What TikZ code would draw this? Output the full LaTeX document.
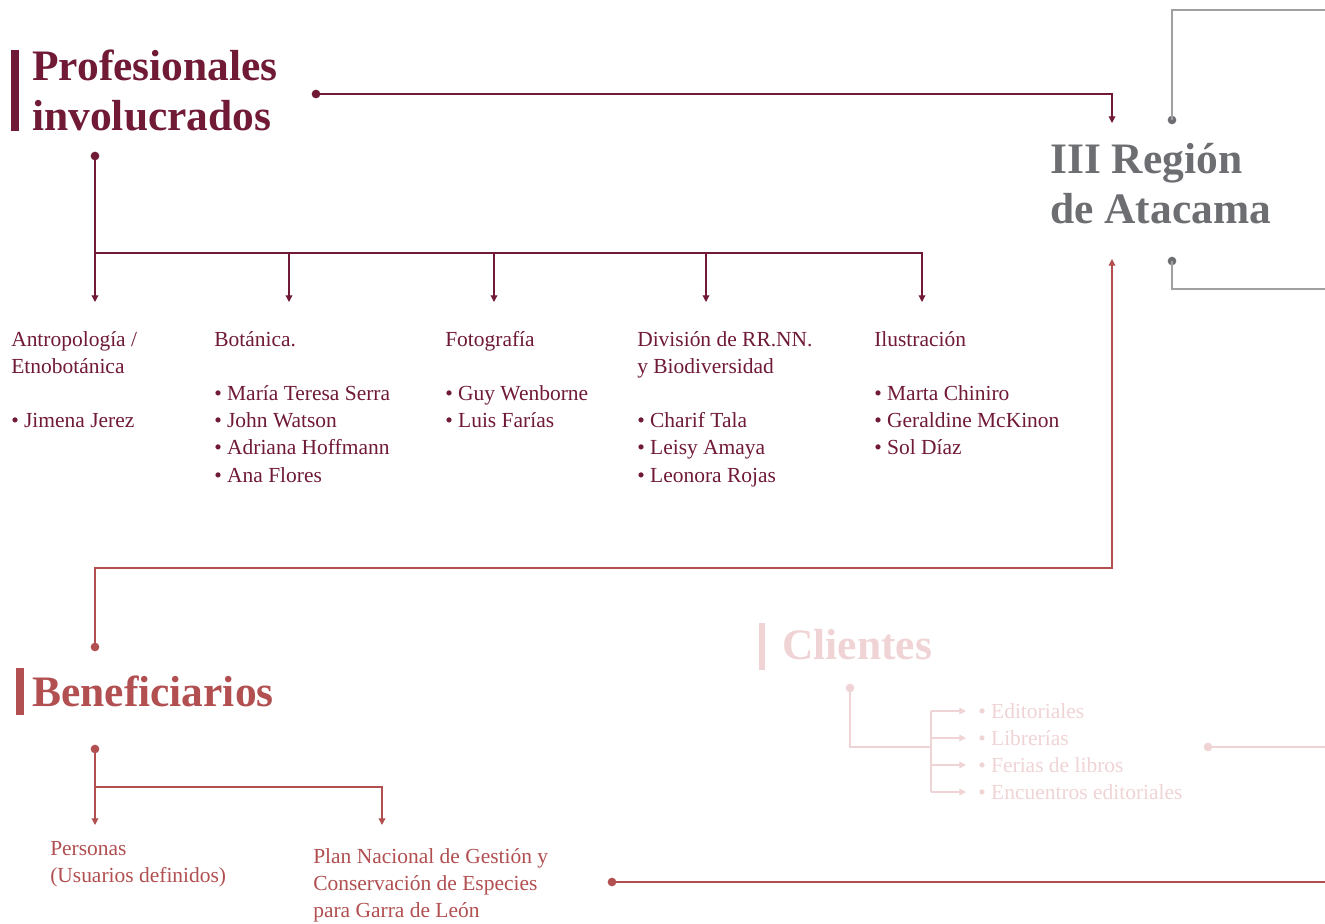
\documentclass[tikz,border=0pt]{standalone}
\usepackage{fontspec}
\setmainfont{Liberation Serif}
\usetikzlibrary{arrows.meta}
\definecolor{cmaroon}{HTML}{701A35}
\definecolor{cgray}{HTML}{6D6E71}
\definecolor{clgray}{HTML}{A0A0A0}
\definecolor{crose}{HTML}{B24F50}
\definecolor{cpink}{HTML}{F0D4D5}
\begin{document}
\begin{tikzpicture}[x=0.75pt,y=-0.75pt,
  conn/.style={line width=0.9pt,-{Triangle[length=5pt,width=5pt]}},
  plain/.style={line width=0.9pt},
  dot/.style={circle,inner sep=0pt,minimum size=6.5pt,fill},
  head/.style={anchor=base west,inner sep=0pt,font=\fontsize{32.6}{37.8}\selectfont\bfseries},
  body/.style={anchor=base west,inner sep=0pt,font=\fontsize{16.1}{20.4}\selectfont},
  pt/.style={coordinate}]
\useasboundingbox[fill=white] (0,0) rectangle (1325,924);

% ---------- Profesionales involucrados ----------
\fill[cmaroon] (11,50) rectangle (19,131);
\node[head,text=cmaroon] (prof) at (32,80) {\vtop{\hbox{Profesionales}\hbox{involucrados}}};
\node[dot,cmaroon] (pd1) at (316,94) {};
\coordinate (pa1) at (1112,123);
\draw[conn,cmaroon] (pd1.center) -| (pa1);

\node[dot,cmaroon] (pd2) at (95,156) {};
\coordinate (pb0) at (95,302);
\coordinate (pj) at (95,253);
\coordinate (pb1) at (289,302);
\coordinate (pb2) at (494,302);
\coordinate (pb3) at (706,302);
\coordinate (pb4) at (922,302);
\draw[conn,cmaroon] (pd2.center) -- (pb0);
\draw[conn,cmaroon] (pj) -| (pb1);
\draw[conn,cmaroon] (pj) -| (pb2);
\draw[conn,cmaroon] (pj) -| (pb3);
\draw[conn,cmaroon] (pj) -| (pb4);

\node[body,text=cmaroon] (c0) at (11,346) {\vtop{\hbox{Antropología /}\hbox{Etnobotánica}\hbox{}\hbox{• Jimena Jerez}}};
\node[body,text=cmaroon] (c1) at (214,346) {\vtop{\hbox{Botánica.}\hbox{}\hbox{• María Teresa Serra}\hbox{• John Watson}\hbox{• Adriana Hoffmann}\hbox{• Ana Flores}}};
\node[body,text=cmaroon] (c2) at (445,346) {\vtop{\hbox{Fotografía}\hbox{}\hbox{• Guy Wenborne}\hbox{• Luis Farías}}};
\node[body,text=cmaroon] (c3) at (637,346) {\vtop{\hbox{División de RR.NN.}\hbox{y Biodiversidad}\hbox{}\hbox{• Charif Tala}\hbox{• Leisy Amaya}\hbox{• Leonora Rojas}}};
\node[body,text=cmaroon] (c4) at (874,346) {\vtop{\hbox{Ilustración}\hbox{}\hbox{• Marta Chiniro}\hbox{• Geraldine McKinon}\hbox{• Sol Díaz}}};

% ---------- III Región de Atacama ----------
\node[head,text=cgray] (reg) at (1050,173) {\vtop{\hbox{III Región}\hbox{de Atacama}}};
\node[dot,cgray] (gd1) at (1172,120) {};
\coordinate (ge1) at (1325,10);
\draw[plain,clgray] (gd1.center) |- (ge1);
\node[dot,cgray] (gd2) at (1172,261) {};
\coordinate (ge2) at (1325,289);
\draw[plain,clgray] (gd2.center) |- (ge2);

% ---------- Beneficiarios ----------
\node[dot,crose] (bd0) at (95,647) {};
\coordinate (bm) at (1112,568);
\coordinate (ba0) at (1112,259);
\draw[conn,crose] (bd0.center) |- (bm) -- (ba0);

\fill[crose] (16,668) rectangle (24,715);
\node[head,text=crose] (ben) at (32,706) {Beneficiarios};
\node[dot,crose] (bd1) at (95,749) {};
\coordinate (bb0) at (95,825);
\coordinate (bj) at (95,787);
\coordinate (bb1) at (382,825);
\draw[conn,crose] (bd1.center) -- (bb0);
\draw[conn,crose] (bj) -| (bb1);
\node[body,text=crose] (b0) at (50,855) {\vtop{\hbox{Personas}\hbox{(Usuarios definidos)}}};
\node[body,text=crose] (b1) at (313,863) {\vtop{\hbox{Plan Nacional de Gestión y}\hbox{Conservación de Especies}\hbox{para Garra de León}}};
\node[dot,crose] (bd2) at (612,882) {};
\coordinate (be2) at (1325,882);
\draw[plain,crose] (bd2.center) -- (be2);

% ---------- Clientes ----------
\fill[cpink] (759,623) rectangle (765,670);
\node[head,text=cpink] (cli) at (782,659) {Clientes};
\node[dot,cpink] (kd1) at (850,688) {};
\coordinate (kj) at (931,747);
\coordinate (kt) at (931,711);
\coordinate (kb) at (931,792);
\draw[plain,cpink] (kd1.center) |- (kj);
\draw[plain,cpink] (kt) -- (kb);
\foreach \yy/\nm in {711/ka1,738/ka2,765/ka3,792/ka4}{
  \coordinate (\nm s) at (931,\yy);
  \coordinate (\nm) at (966,\yy);
  \draw[conn,cpink] (\nm s) -- (\nm);
}
\node[body,text=cpink] (k1) at (978,718) {\vtop{\hbox{• Editoriales}\hbox{• Librerías}\hbox{• Ferias de libros}\hbox{• Encuentros editoriales}}};
\node[dot,cpink] (kd2) at (1208,747) {};
\coordinate (ke2) at (1325,747);
\draw[plain,cpink] (kd2.center) -- (ke2);
\end{tikzpicture}
\end{document}
